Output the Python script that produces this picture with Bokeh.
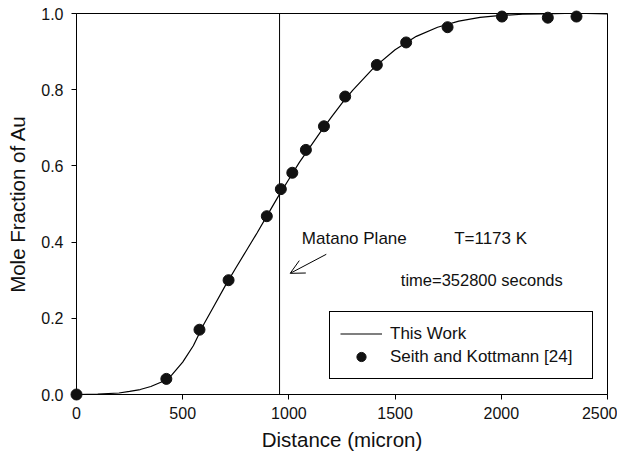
from bokeh.plotting import figure
from bokeh.models import Legend, LegendItem, Span, Arrow, OpenHead, Label, FixedTicker
from bokeh.embed import file_html
from bokeh.resources import INLINE

# Experimental data (Seith and Kottmann [24])
exp_x = [0, 423, 579, 716, 896, 962, 1016, 1080, 1165, 1265, 1414, 1552, 1747, 2003, 2219, 2354]
exp_y = [0.0, 0.041, 0.170, 0.300, 0.468, 0.539, 0.582, 0.642, 0.704, 0.782, 0.865, 0.924, 0.964, 0.992, 0.989, 0.992]

# Model curve (This Work)
fit_x = [0, 100, 200, 250, 300, 350, 400, 450, 500, 550, 600, 650, 700, 750, 800, 850, 900,
         950, 1000, 1050, 1100, 1150, 1200, 1250, 1300, 1400, 1500, 1600, 1700, 1800, 1900,
         2000, 2100, 2200, 2300, 2400, 2500]
fit_y = [0.0, 0.001, 0.004, 0.008, 0.013, 0.021, 0.033, 0.052, 0.085, 0.128, 0.185, 0.235, 0.285,
         0.332, 0.378, 0.424, 0.472, 0.520, 0.565, 0.610, 0.650, 0.690, 0.728, 0.765, 0.798,
         0.858, 0.905, 0.940, 0.964, 0.980, 0.990, 0.995, 0.998, 0.999, 1.0, 1.0, 0.999]

matano_x = 956
arrow_start = (1176, 0.368)
arrow_end = (1006, 0.318)

x_ticks = [0, 500, 1000, 1500, 2000, 2500]
y_ticks = [0.0, 0.2, 0.4, 0.6, 0.8, 1.0]

FONT = "Liberation Sans"

p = figure(frame_width=531, frame_height=381, x_range=(0, 2500), y_range=(0, 1.0),
           output_backend="svg", toolbar_location=None,
           min_border_left=76, min_border_right=10, min_border_top=13, min_border_bottom=58)
p.background_fill_color = "white"
p.border_fill_color = "white"
p.outline_line_color = "black"
p.outline_line_width = 1
p.outline_line_alpha = 1
p.grid.visible = False

for ax in (p.xaxis, p.yaxis):
    ax.axis_line_color = "black"
    ax.major_tick_line_color = "black"
    ax.minor_tick_line_color = None
    ax.major_tick_in = 0
    ax.major_tick_out = 5
    ax.major_label_text_font = FONT
    ax.major_label_text_font_size = "16px"
    ax.major_label_text_color = "#111111"
    ax.axis_label_text_font = FONT
    ax.axis_label_text_font_size = "20.5px"
    ax.axis_label_text_font_style = "normal"
    ax.axis_label_text_color = "#111111"

p.xaxis.ticker = FixedTicker(ticks=x_ticks)
p.yaxis.ticker = FixedTicker(ticks=y_ticks)
p.xaxis.axis_label = "Distance (micron)"
p.yaxis.axis_label = "Mole Fraction of Au"
p.yaxis.major_label_overrides = {t: f"{t:.1f}" for t in y_ticks}
p.xaxis.major_label_standoff = 7
p.yaxis.major_label_standoff = 8
p.xaxis.axis_label_standoff = 6
p.yaxis.axis_label_standoff = 9

p.add_layout(Span(location=matano_x, dimension="height", line_color="black", line_width=1))

line_r = p.line(fit_x, fit_y, line_color="black", line_width=1.2)
pts_r = p.scatter(exp_x, exp_y, size=11, fill_color="#111111", line_color="#111111", level="overlay")

p.add_layout(Arrow(end=OpenHead(size=14, line_color="black", line_width=1),
                   x_start=arrow_start[0], y_start=arrow_start[1],
                   x_end=arrow_end[0], y_end=arrow_end[1],
                   line_color="black", line_width=1))

for txt, x, y, fs in [("Matano Plane", 1061, 0.409, "17px"), ("T=1173 K", 1778, 0.409, "17px"),
                      ("time=352800 seconds", 1527, 0.301, "16.5px")]:
    p.add_layout(Label(x=x, y=y, text=txt, text_font=FONT, text_font_size=fs,
                       text_color="#111111", text_baseline="middle", text_align="left"))

legend = Legend(items=[LegendItem(label="This Work", renderers=[line_r]),
                       LegendItem(label="Seith and Kottmann [24]", renderers=[pts_r])],
                location=(253, 15), orientation="vertical")
legend.label_text_font = FONT
legend.label_text_font_size = "17px"
legend.label_text_color = "#111111"
legend.border_line_color = "black"
legend.border_line_width = 1
legend.border_line_alpha = 1
legend.background_fill_color = "white"
legend.background_fill_alpha = 1
legend.padding = 10
legend.margin = 0
legend.spacing = 0
legend.glyph_width = 42
legend.glyph_height = 23
legend.label_height = 23
legend.label_width = 192
legend.label_standoff = 8
p.add_layout(legend, "center")

open("out.html", "w").write(file_html(p, INLINE))
